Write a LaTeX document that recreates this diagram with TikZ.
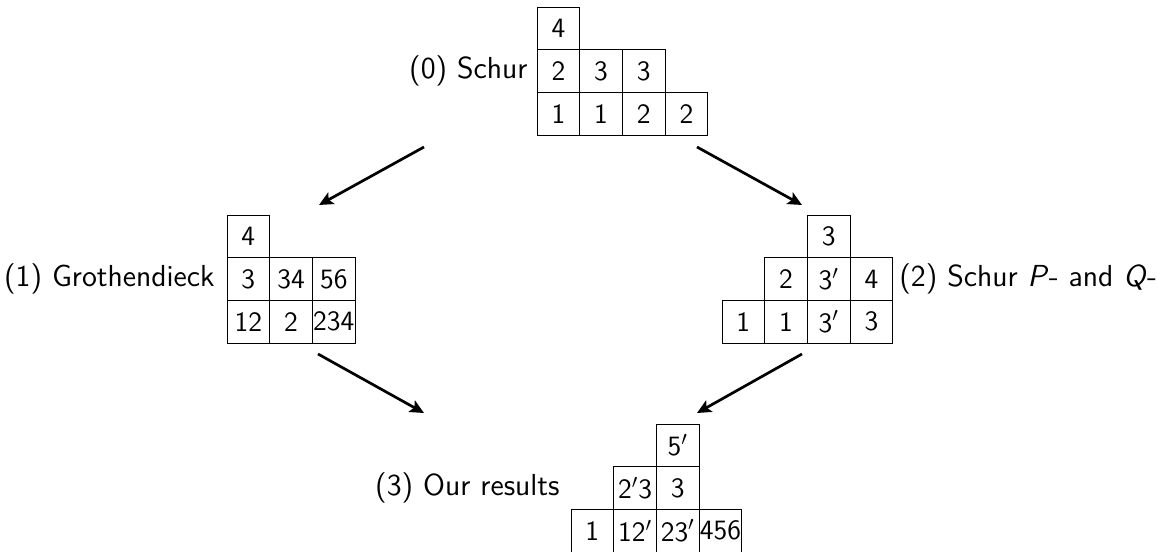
\documentclass[tikz,border=0pt]{standalone}
\usepackage{fontspec}
\usetikzlibrary{arrows.meta}
\begin{document}
\begin{tikzpicture}[x=0.5pt,y=-0.5pt,
  font=\sffamily\fontsize{15.2}{18}\selectfont,
  cell/.style={draw, line width=0.5pt, minimum width=21.35pt, minimum height=21.35pt, inner sep=0pt, outer sep=0pt, font=\sffamily\fontsize{14}{17}\selectfont},
  lab/.style={inner sep=0pt},
  arr/.style={line width=1.35pt, -{Stealth[length=7pt,width=6.5pt,inset=1.5pt]}}]
\useasboundingbox (0,0) rectangle (1158,552);
% (0) Schur
\node[cell] (t0a) at (558.4,28.4) {4};
\node[cell] (t0b) at (558.4,71.2) {2};
\node[cell] (t0c) at (601.1,71.2) {3};
\node[cell] (t0d) at (643.8,71.2) {3};
\node[cell] (t0e) at (558.4,113.9) {1};
\node[cell] (t0f) at (601.1,113.9) {1};
\node[cell] (t0g) at (643.8,113.9) {2};
\node[cell] (t0h) at (686.5,113.9) {2};
\node[lab, anchor=east] (l0) at (528,71.2) {(0) Schur};
% (1) Grothendieck
\node[cell] (t1a) at (248.35,236.35) {4};
\node[cell] (t1b) at (248.35,279.05) {3};
\node[cell] (t1c) at (291.05,279.05) {34};
\node[cell] (t1d) at (333.75,279.05) {56};
\node[cell] (t1e) at (248.35,321.75) {12};
\node[cell] (t1f) at (291.05,321.75) {2};
\node[cell] (t1g) at (333.75,321.75) {234};
\node[lab, anchor=east] (l1) at (215,279.05) {(1) Grothendieck};
% (2) Schur P- and Q-
\node[cell] (t2a) at (828.75,236.35) {3};
\node[cell] (t2b) at (786.05,279.05) {2};
\node[cell] (t2c) at (828.75,279.05) {3$'$};
\node[cell] (t2d) at (871.45,279.05) {4};
\node[cell] (t2e) at (743.35,321.75) {1};
\node[cell] (t2f) at (786.05,321.75) {1};
\node[cell] (t2g) at (828.75,321.75) {3$'$};
\node[cell] (t2h) at (871.45,321.75) {3};
\node[lab, anchor=west] (l2) at (899,279.05) {(2) Schur \textsl{P}- and \textsl{Q}-};
% (3) Our results
\node[cell] (t3a) at (677.75,445.35) {5$'$};
\node[cell] (t3b) at (635.05,488.05) {2$'$3};
\node[cell] (t3c) at (677.75,488.05) {3};
\node[cell] (t3d) at (592.35,530.75) {1};
\node[cell] (t3e) at (635.05,530.75) {12$'$};
\node[cell] (t3f) at (677.75,530.75) {23$'$};
\node[cell] (t3g) at (720.45,530.75) {456};
\node[lab, anchor=east] (l3) at (560,488.05) {(3) Our results};
% arrows
\coordinate (a1s) at (424,147); \coordinate (a1e) at (319,205);
\coordinate (a2s) at (697,147); \coordinate (a2e) at (802,205);
\coordinate (a3s) at (318,354); \coordinate (a3e) at (424,413);
\coordinate (a4s) at (802,354); \coordinate (a4e) at (697,413);
\draw[arr] (a1s) -- (a1e);
\draw[arr] (a2s) -- (a2e);
\draw[arr] (a3s) -- (a3e);
\draw[arr] (a4s) -- (a4e);
\end{tikzpicture}
\end{document}
